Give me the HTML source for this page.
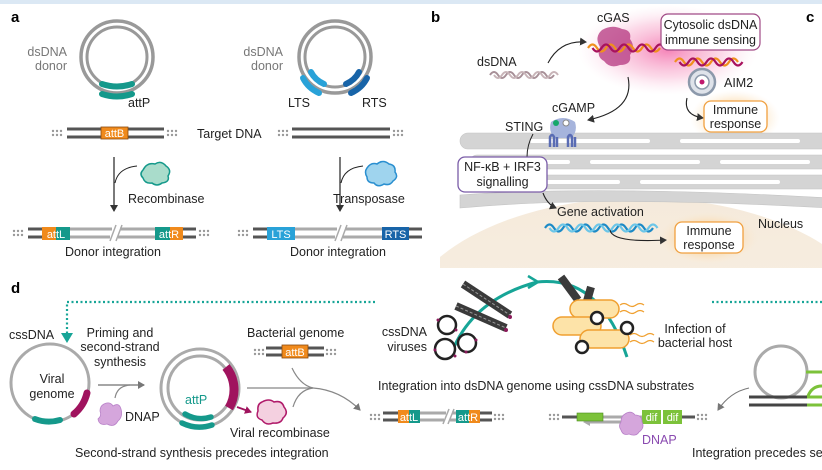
<!DOCTYPE html>
<html><head><meta charset="utf-8"><style>
html,body{margin:0;padding:0;background:#fff;}
svg{display:block;font-family:"Liberation Sans",sans-serif;}
</style></head><body>
<svg width="822" height="470" viewBox="0 0 822 470" xmlns="http://www.w3.org/2000/svg" xmlns:xlink="http://www.w3.org/1999/xlink">
<defs>
<radialGradient id="pink" cx="50%" cy="50%" r="50%"><stop offset="0" stop-color="#f25aa0" stop-opacity="0.75"/><stop offset="0.6" stop-color="#f7a0c6" stop-opacity="0.4"/><stop offset="1" stop-color="#fbd6e6" stop-opacity="0"/></radialGradient>
<radialGradient id="org" cx="50%" cy="50%" r="50%"><stop offset="0" stop-color="#f8b560" stop-opacity="0.8"/><stop offset="0.7" stop-color="#fbd9a8" stop-opacity="0.4"/><stop offset="1" stop-color="#fde9cf" stop-opacity="0"/></radialGradient>
<linearGradient id="nuc" x1="0" y1="0" x2="0" y2="1"><stop offset="0" stop-color="#f5eadb"/><stop offset="1" stop-color="#fbf4ea"/></linearGradient>
<clipPath id="clipb"><rect x="440" y="0" width="382" height="268"/></clipPath>
<g id="dots" fill="#999"><circle cx="1" cy="1" r="1.2"/><circle cx="5" cy="1" r="1.2"/><circle cx="9" cy="1" r="1.2"/><circle cx="1" cy="5" r="1.2"/><circle cx="5" cy="5" r="1.2"/><circle cx="9" cy="5" r="1.2"/></g>
<marker id="ah" markerWidth="8" markerHeight="8" refX="6" refY="4" orient="auto" markerUnits="userSpaceOnUse"><path d="M0,0 L7,4 L0,8 Z" fill="#333"/></marker>
<marker id="ahg" markerWidth="8" markerHeight="8" refX="6" refY="4" orient="auto" markerUnits="userSpaceOnUse"><path d="M0,0 L7,4 L0,8 Z" fill="#777"/></marker>
<marker id="ahm" markerWidth="8" markerHeight="8" refX="6" refY="4" orient="auto" markerUnits="userSpaceOnUse"><path d="M0,0 L7,4 L0,8 Z" fill="#a0135e"/></marker>
</defs>
<rect x="0" y="0" width="822" height="4" fill="#dbe8f4"/>

<!-- ===== Panel a ===== -->
<text x="11" y="22" font-size="15" font-weight="bold">a</text>
<g font-size="12.5">
<text x="67" y="56" fill="#777" text-anchor="end">dsDNA</text>
<text x="67" y="70" fill="#777" text-anchor="end">donor</text>
<circle cx="117" cy="57" r="36" fill="none" stroke="#999" stroke-width="3.5"/>
<circle cx="117" cy="57" r="30" fill="none" stroke="#999" stroke-width="3"/>
<path d="M102,84 Q117,89 132,84" stroke="#15998b" stroke-width="6" fill="none" stroke-linecap="round"/>
<path d="M102,94 Q117,99 132,94" stroke="#15998b" stroke-width="6" fill="none" stroke-linecap="round"/>
<text x="128" y="107" fill="#222">attP</text>

<text x="283" y="56" fill="#777" text-anchor="end">dsDNA</text>
<text x="283" y="70" fill="#777" text-anchor="end">donor</text>
<circle cx="335" cy="57" r="36" fill="none" stroke="#999" stroke-width="3.5"/>
<circle cx="335" cy="57" r="30" fill="none" stroke="#999" stroke-width="3"/>
<path d="M311,72 Q315,80 324,84" stroke="#29a2d8" stroke-width="6" fill="none" stroke-linecap="round"/>
<path d="M303,78 Q308,88 319,93" stroke="#29a2d8" stroke-width="6" fill="none" stroke-linecap="round"/>
<path d="M359,72 Q355,80 346,84" stroke="#1864a8" stroke-width="6" fill="none" stroke-linecap="round"/>
<path d="M367,78 Q362,88 351,93" stroke="#1864a8" stroke-width="6" fill="none" stroke-linecap="round"/>
<text x="288" y="107" fill="#222">LTS</text>
<text x="362" y="107" fill="#222">RTS</text>

<g stroke="#555" stroke-width="3"><line x1="67" y1="129" x2="164" y2="129"/><line x1="67" y1="137" x2="164" y2="137"/>
<line x1="292" y1="129" x2="390" y2="129"/><line x1="292" y1="137" x2="390" y2="137"/></g>
<use xlink:href="#dots" x="52" y="130"/><use xlink:href="#dots" x="167" y="130"/><use xlink:href="#dots" x="278" y="130"/><use xlink:href="#dots" x="393" y="130"/>
<rect x="101" y="127" width="27" height="12" fill="#f08a1c" stroke="#8a4a10" stroke-width="0.8"/>
<text x="114.5" y="137" fill="#fff" font-size="11" text-anchor="middle">attB</text>
<text x="197" y="138" fill="#222">Target DNA</text>

<line x1="114" y1="157" x2="114" y2="211" stroke="#222" stroke-width="1.2" marker-end="url(#ah)"/>
<path d="M137,166 Q118,168 115,183" stroke="#222" stroke-width="1" fill="none"/>
<path d="M143,170 q4,-8 12,-6 q6,-4 11,2 q6,4 2,10 q2,6 -6,7 q-5,4 -10,0 q-7,1 -9,-5 q-4,-4 0,-8z" fill="#a9dccb" stroke="#15998b" stroke-width="1.5"/>
<text x="128" y="203" fill="#222">Recombinase</text>
<line x1="340" y1="157" x2="340" y2="211" stroke="#222" stroke-width="1.2" marker-end="url(#ah)"/>
<path d="M363,166 Q344,168 341,183" stroke="#222" stroke-width="1" fill="none"/>
<path d="M367,168 q4,-6 10,-4 q6,-5 12,0 q7,1 6,8 q4,5 -2,9 q-3,5 -9,3 q-6,4 -10,-1 q-7,0 -7,-6 q-3,-5 0,-9z" fill="#9fd4ee" stroke="#2a8fd0" stroke-width="1.5"/>
<text x="333" y="203" fill="#222">Transposase</text>

<g stroke-width="3">
<line x1="28" y1="229" x2="42" y2="229" stroke="#555"/><line x1="28" y1="237" x2="42" y2="237" stroke="#555"/>
<line x1="70" y1="229" x2="112" y2="229" stroke="#aaa"/><line x1="70" y1="237" x2="110" y2="237" stroke="#aaa"/>
<line x1="120" y1="229" x2="155" y2="229" stroke="#aaa"/><line x1="118" y1="237" x2="155" y2="237" stroke="#aaa"/>
<line x1="183" y1="229" x2="196" y2="229" stroke="#555"/><line x1="183" y1="237" x2="196" y2="237" stroke="#555"/>
<line x1="253" y1="229" x2="267" y2="229" stroke="#555"/><line x1="253" y1="237" x2="267" y2="237" stroke="#555"/>
<line x1="295" y1="229" x2="337" y2="229" stroke="#aaa"/><line x1="295" y1="237" x2="335" y2="237" stroke="#aaa"/>
<line x1="345" y1="229" x2="382" y2="229" stroke="#aaa"/><line x1="343" y1="237" x2="382" y2="237" stroke="#aaa"/>
<line x1="408" y1="229" x2="422" y2="229" stroke="#555"/><line x1="408" y1="237" x2="422" y2="237" stroke="#555"/>
</g>
<g stroke="#aaa" stroke-width="1.5"><line x1="110" y1="241" x2="116" y2="225"/><line x1="116" y1="241" x2="122" y2="225"/><line x1="335" y1="241" x2="341" y2="225"/><line x1="341" y1="241" x2="347" y2="225"/></g>
<use xlink:href="#dots" x="13" y="230"/><use xlink:href="#dots" x="199" y="230"/><use xlink:href="#dots" x="238" y="230"/>
<rect x="42" y="227" width="14" height="13" fill="#f08a1c"/><rect x="56" y="227" width="14" height="13" fill="#15998b"/>
<text x="56" y="238" fill="#fff" font-size="11" text-anchor="middle">attL</text>
<rect x="155" y="227" width="15" height="13" fill="#15998b"/><rect x="170" y="227" width="13" height="13" fill="#f08a1c"/>
<text x="169" y="238" fill="#fff" font-size="11" text-anchor="middle">attR</text>
<rect x="267" y="227" width="28" height="13" fill="#29a2d8"/><text x="281" y="238" fill="#fff" font-size="11" text-anchor="middle">LTS</text>
<rect x="382" y="227" width="27" height="13" fill="#1864a8"/><text x="395.5" y="238" fill="#fff" font-size="11" text-anchor="middle">RTS</text>
<text x="65" y="256" fill="#222">Donor integration</text>
<text x="290" y="256" fill="#222">Donor integration</text>
</g>

<!-- ===== Panel b ===== -->
<g clip-path="url(#clipb)">
<ellipse cx="640" cy="330" rx="240" ry="132" fill="url(#nuc)"/>
<ellipse cx="668" cy="50" rx="90" ry="45" fill="url(#pink)"/>
<ellipse cx="735" cy="118" rx="45" ry="28" fill="url(#org)"/>
<ellipse cx="708" cy="238" rx="50" ry="26" fill="url(#org)"/>
<g fill="#d4d4d4" stroke="#c4c4c4" stroke-width="0.6">
<rect x="460" y="133" width="370" height="16" rx="8"/>
<rect x="470" y="155" width="360" height="14" rx="7"/>
<rect x="470" y="175" width="360" height="14" rx="7"/>
<path d="M460,195 Q600,185 830,198 L830,208 Q600,195 460,208 Z"/>
</g>
<g fill="#fff"><rect x="530" y="139" width="120" height="4" rx="2"/><rect x="680" y="139" width="120" height="4" rx="2"/>
<rect x="470" y="160" width="100" height="4" rx="2"/><rect x="590" y="160" width="110" height="4" rx="2"/><rect x="720" y="160" width="90" height="4" rx="2"/>
<rect x="530" y="180" width="90" height="4" rx="2"/><rect x="640" y="180" width="140" height="4" rx="2"/></g>
</g>
<text x="431" y="22" font-size="15" font-weight="bold">b</text>
<text x="806" y="22" font-size="15" font-weight="bold">c</text>
<g font-size="12.5">
<text x="597" y="22" fill="#222">cGAS</text>
<path d="M602,30 q10,-6 20,-1 q10,1 8,10 q6,8 0,16 q2,10 -10,10 q-10,4 -16,-4 q-8,-4 -4,-14 q-6,-10 2,-17z" fill="#b4357f" opacity="0.75"/>
<path d="M588,48 q4.5,-7 9,0 t9,0 t9,0 t9,0 t9,0 t9,0 t9,0 t9,0" stroke="#f0901c" stroke-width="2.2" fill="none"/>
<path d="M592.5,48 q4.5,7 9,0 t9,0 t9,0 t9,0 t9,0 t9,0 t9,0 t9,0" stroke="#a8125e" stroke-width="2.2" fill="none"/>
<rect x="661" y="14" width="99" height="36" rx="7" fill="#fff" stroke="#a04a86" stroke-width="1.2"/>
<text x="710.5" y="29" fill="#222" text-anchor="middle">Cytosolic dsDNA</text>
<text x="710.5" y="44" fill="#222" text-anchor="middle">immune sensing</text>
<text x="477" y="66" fill="#222">dsDNA</text>
<path d="M490,75 q4,-6 8,0 t8,0 t8,0 t8,0 t8,0 t8,0 t8,0 t8,0" stroke="#a89098" stroke-width="2" fill="none"/>
<path d="M494,75 q4,6 8,0 t8,0 t8,0 t8,0 t8,0 t8,0 t8,0 t8,0" stroke="#c8b4b8" stroke-width="2" fill="none"/>
<path d="M548,63 Q560,40 586,42" stroke="#222" stroke-width="1.1" fill="none" marker-end="url(#ah)"/>
<path d="M675,62 q4.5,-7 9,0 t9,0 t9,0 t9,0 t9,0 t9,0 t9,0" stroke="#f0901c" stroke-width="2.2" fill="none"/>
<path d="M679.5,62 q4.5,7 9,0 t9,0 t9,0 t9,0 t9,0 t9,0 t9,0" stroke="#a8125e" stroke-width="2.2" fill="none"/>
<circle cx="702" cy="82" r="13" fill="#dfe3ea" stroke="#8c99ab" stroke-width="2.5"/>
<circle cx="702" cy="82" r="7" fill="#fff" stroke="#8c99ab" stroke-width="1.5"/>
<circle cx="702" cy="82" r="2.5" fill="#c0196e"/>
<text x="724" y="87" fill="#222">AIM2</text>
<path d="M687,98 Q683,115 703,118" stroke="#222" stroke-width="1.1" fill="none" marker-end="url(#ah)"/>
<rect x="704" y="101" width="63" height="31" rx="7" fill="#fff" stroke="#f0a040" stroke-width="1.3"/>
<text x="735.5" y="114" fill="#222" text-anchor="middle">Immune</text>
<text x="735.5" y="128" fill="#222" text-anchor="middle">response</text>
<path d="M628,77 Q635,110 588,120" stroke="#222" stroke-width="1.1" fill="none" marker-end="url(#ah)"/>
<text x="552" y="112" fill="#222">cGAMP</text>
<text x="505" y="131" fill="#222">STING</text>
<path d="M551,122 q12,-8 24,0 q3,10 -4,16 l-16,0 q-7,-6 -4,-16z" fill="#a6b4dc"/>
<circle cx="556" cy="123" r="3" fill="#15a86a"/><circle cx="566" cy="123" r="3" fill="#fff" stroke="#888"/>
<path d="M550,147 l0,-10 q2,-4 4,0 l0,10 M557,147 l0,-10 M568,147 l0,-10 q2,-4 4,0 l0,10 M575,147 l0,-10" stroke="#5a6cb4" stroke-width="2.5" fill="none"/>
<path d="M533,134 Q527,145 527,157" stroke="#222" stroke-width="1" fill="none"/>
<rect x="458" y="157" width="89" height="35" rx="7" fill="#fff" stroke="#7a5ca8" stroke-width="1.3"/>
<text x="502.5" y="171" fill="#222" text-anchor="middle">NF-κB + IRF3</text>
<text x="502.5" y="186" fill="#222" text-anchor="middle">signalling</text>
<path d="M543,193 Q547,204 556,208" stroke="#222" stroke-width="1.1" fill="none" marker-end="url(#ah)"/>
<text x="557" y="216" fill="#222">Gene activation</text>
<path d="M545,228 q4.5,-7 9,0 t9,0 t9,0 t9,0 t9,0 t9,0 t9,0 t9,0 t9,0 t9,0 t9,0 t9,0" stroke="#1c8ac6" stroke-width="2.2" fill="none"/>
<path d="M549.5,228 q4.5,7 9,0 t9,0 t9,0 t9,0 t9,0 t9,0 t9,0 t9,0 t9,0 t9,0 t9,0 t9,0" stroke="#6cc6e8" stroke-width="2.2" fill="none"/>
<path d="M610,230 Q612,243 666,240" stroke="#222" stroke-width="1.1" fill="none" marker-end="url(#ah)"/>
<rect x="675" y="222" width="68" height="31" rx="7" fill="#fff" stroke="#f0a040" stroke-width="1.3"/>
<text x="709" y="235" fill="#222" text-anchor="middle">Immune</text>
<text x="709" y="249" fill="#222" text-anchor="middle">response</text>
<text x="758" y="228" fill="#222">Nucleus</text>
</g>

<!-- ===== Panel d ===== -->
<text x="11" y="293" font-size="15" font-weight="bold">d</text>
<path d="M375,302 L67,302 L67,338" stroke="#17a597" stroke-width="2.2" stroke-dasharray="2,2.5" fill="none"/>
<path d="M61,333 L67,343 L73,333 Z" fill="#17a597"/>
<line x1="712" y1="302" x2="822" y2="302" stroke="#17a597" stroke-width="2.2" stroke-dasharray="2,2.5"/>
<g font-size="12.5" fill="#222">
<text x="9" y="339">cssDNA</text>
<circle cx="50" cy="383" r="39" fill="none" stroke="#aaa" stroke-width="3"/>
<path d="M87,393 A39,39 0 0 1 74,414" stroke="#a0135e" stroke-width="7" fill="none" stroke-linecap="round"/>
<path d="M35,419 A39,39 0 0 0 60,420" stroke="#15998b" stroke-width="6" fill="none" stroke-linecap="round"/>
<text x="52" y="383" text-anchor="middle">Viral</text>
<text x="52" y="398" text-anchor="middle">genome</text>
<text x="120" y="337" text-anchor="middle">Priming and</text>
<text x="120" y="351" text-anchor="middle">second-strand</text>
<text x="120" y="366" text-anchor="middle">synthesis</text>
<line x1="98" y1="385" x2="144" y2="385" stroke="#888" stroke-width="1.5" marker-end="url(#ahg)"/>
<path d="M115,398 Q117,386 130,385" stroke="#888" stroke-width="1.2" fill="none"/>
<path d="M104,404 q6,-3 9,2 q6,-4 8,3 q2,8 -3,12 q-4,7 -11,3 q-8,2 -9,-5 q4,-3 2,-8 q0,-5 4,-7z" fill="#d5a6dc" stroke="#b880c8" stroke-width="0.8"/>
<text x="125" y="421">DNAP</text>
<circle cx="200" cy="388" r="39" fill="none" stroke="#aaa" stroke-width="3"/>
<circle cx="200" cy="388" r="32" fill="none" stroke="#aaa" stroke-width="3"/>
<path d="M226,367 A36,36 0 0 1 229,408" stroke="#a0135e" stroke-width="9" fill="none"/>
<path d="M185,414 A32,32 0 0 0 211,417" stroke="#15998b" stroke-width="5.5" fill="none" stroke-linecap="round"/>
<path d="M182,423 A40,40 0 0 0 212,425" stroke="#15998b" stroke-width="5.5" fill="none" stroke-linecap="round"/>
<text x="185" y="404" fill="#15998b">attP</text>
<line x1="237" y1="407" x2="251" y2="412" stroke="#a0135e" stroke-width="1.8" marker-end="url(#ahm)"/>
<path d="M262,402 q7,-4 12,0 q8,-2 10,5 q5,6 -1,11 q-2,6 -10,5 q-7,3 -11,-3 q-7,-2 -4,-9 q-1,-7 4,-9z" fill="#f4d0e0" stroke="#b01a6a" stroke-width="1.5"/>
<text x="230" y="437">Viral recombinase</text>
<text x="247" y="337">Bacterial genome</text>
<g stroke="#555" stroke-width="3"><line x1="266" y1="348" x2="324" y2="348"/><line x1="266" y1="355" x2="324" y2="355"/></g>
<use xlink:href="#dots" x="254" y="349"/><use xlink:href="#dots" x="326" y="349"/>
<rect x="282" y="345" width="26" height="13" fill="#f08a1c" stroke="#8a4a10" stroke-width="0.8"/>
<text x="295" y="356" fill="#fff" font-size="11" text-anchor="middle">attB</text>
<path d="M247,388 L313,388 Q340,390 360,410" stroke="#888" stroke-width="1.3" fill="none" marker-end="url(#ahg)"/>
<path d="M292,368 Q300,385 313,388" stroke="#888" stroke-width="1.2" fill="none"/>
<path d="M293,407 Q298,390 313,388" stroke="#888" stroke-width="1.2" fill="none"/>
<text x="75" y="457">Second-strand synthesis precedes integration</text>

<g stroke-width="3"><line x1="383" y1="413" x2="398" y2="413" stroke="#555"/><line x1="383" y1="420" x2="398" y2="420" stroke="#555"/>
<line x1="420" y1="413" x2="446" y2="413" stroke="#aaa"/><line x1="420" y1="420" x2="444" y2="420" stroke="#aaa"/>
<line x1="452" y1="413" x2="456" y2="413" stroke="#aaa"/><line x1="450" y1="420" x2="456" y2="420" stroke="#aaa"/>
<line x1="480" y1="413" x2="492" y2="413" stroke="#555"/><line x1="480" y1="420" x2="492" y2="420" stroke="#555"/></g>
<g stroke="#aaa" stroke-width="1.5"><line x1="443" y1="424" x2="449" y2="409"/><line x1="448" y1="424" x2="454" y2="409"/></g>
<use xlink:href="#dots" x="370" y="414"/><use xlink:href="#dots" x="494" y="414"/>
<rect x="398" y="410" width="11" height="13" fill="#f08a1c"/><rect x="409" y="410" width="11" height="13" fill="#15998b"/>
<text x="409" y="421" fill="#fff" font-size="11" text-anchor="middle">attL</text>
<rect x="456" y="410" width="13" height="13" fill="#15998b"/><rect x="469" y="410" width="11" height="13" fill="#f08a1c"/>
<text x="468" y="421" fill="#fff" font-size="11" text-anchor="middle">attR</text>
<text x="378" y="390">Integration into dsDNA genome using cssDNA substrates</text>

<path d="M450,357 Q470,300 537,282 Q600,275 627,357" stroke="#17a597" stroke-width="3" fill="none"/>
<path d="M528,276 L538,282 L528,288" stroke="#17a597" stroke-width="2.5" fill="none"/>
<g stroke="#3a3a3a" stroke-width="8">
<line x1="463" y1="284" x2="510" y2="315"/><line x1="456" y1="306" x2="506" y2="328"/>
<line x1="561" y1="277" x2="578" y2="300"/><line x1="591" y1="287" x2="583" y2="315"/></g>
<g stroke="#999" stroke-width="1" stroke-dasharray="3,2"><line x1="463" y1="284" x2="510" y2="315"/><line x1="456" y1="306" x2="506" y2="328"/></g>
<g fill="#fde3a8" stroke="#f0a030" stroke-width="1.5">
<rect x="570" y="300" width="49" height="18" rx="9"/><rect x="553" y="317" width="48" height="18" rx="9"/><rect x="580" y="330" width="49" height="18" rx="9"/></g>
<g stroke="#f0a030" stroke-width="1.2" fill="none">
<path d="M620,305 q4,-3 8,0 t8,0 t8,0"/><path d="M620,312 q4,-3 8,0 t8,0 t8,0"/><path d="M630,335 q4,-3 8,0 t8,0 t8,0"/><path d="M630,342 q4,-3 8,0 t8,0 t8,0"/></g>
<g fill="#fff" stroke="#222" stroke-width="2.5"><circle cx="447" cy="325" r="9"/><circle cx="445" cy="349" r="10"/><circle cx="467" cy="343" r="9"/>
<circle cx="597" cy="318" r="6"/><circle cx="627" cy="328" r="6"/><circle cx="582" cy="347" r="6"/></g>
<g fill="#8a1a5a"><circle cx="438" cy="320" r="1.5"/><circle cx="456" cy="330" r="1.5"/><circle cx="435" cy="350" r="1.5"/><circle cx="455" cy="356" r="1.5"/><circle cx="476" cy="340" r="1.5"/><circle cx="466" cy="352" r="1.5"/><circle cx="510" cy="317" r="2"/><circle cx="506" cy="330" r="2"/></g>
<text x="427" y="336" text-anchor="end">cssDNA</text>
<text x="427" y="351" text-anchor="end">viruses</text>
<text x="695" y="333" text-anchor="middle">Infection of</text>
<text x="695" y="347" text-anchor="middle">bacterial host</text>

<g stroke-width="3"><line x1="562" y1="417" x2="577" y2="417" stroke="#555"/><line x1="603" y1="417" x2="642" y2="417" stroke="#aaa"/><line x1="682" y1="417" x2="695" y2="417" stroke="#555"/>
<line x1="590" y1="422" x2="630" y2="422" stroke="#aaa"/></g>
<path d="M590,418 L583,422 L590,426 Z" fill="#aaa"/>
<use xlink:href="#dots" x="549" y="414"/><use xlink:href="#dots" x="697" y="414"/>
<rect x="577" y="413" width="26" height="8" fill="#7cc23a" stroke="#4a8a1a" stroke-width="0.6"/>
<rect x="642" y="410" width="19" height="14" fill="#7cc23a"/><rect x="663" y="410" width="19" height="14" fill="#7cc23a"/>
<text x="651.5" y="421" fill="#fff" font-size="11" text-anchor="middle">dif</text><text x="672.5" y="421" fill="#fff" font-size="11" text-anchor="middle">dif</text>
<path d="M625,414 q6,-4 10,1 q7,0 7,7 q3,6 -3,10 q-3,5 -10,2 q-6,2 -8,-4 q-3,-4 0,-8 q0,-6 4,-8z" fill="#d5a6dc" stroke="#b880c8" stroke-width="0.8"/>
<text x="642" y="444" fill="#8a4ab0">DNAP</text>
<circle cx="781" cy="372" r="26" fill="none" stroke="#aaa" stroke-width="3"/>
<g stroke-width="3"><line x1="749" y1="397" x2="808" y2="397" stroke="#444"/><line x1="749" y1="405" x2="808" y2="405" stroke="#444"/>
<line x1="807" y1="397" x2="822" y2="397" stroke="#7cc23a"/><line x1="807" y1="405" x2="822" y2="405" stroke="#7cc23a"/><line x1="806" y1="372" x2="822" y2="372" stroke="#7cc23a"/></g>
<path d="M808,396 q4,-10 14,-10" stroke="#7cc23a" stroke-width="3" fill="none"/>
<path d="M749,388 Q730,392 718,410" stroke="#777" stroke-width="1.1" fill="none" marker-end="url(#ahg)"/>
<text x="692" y="457">Integration precedes sec</text>
</g>
</svg>
</body></html>
